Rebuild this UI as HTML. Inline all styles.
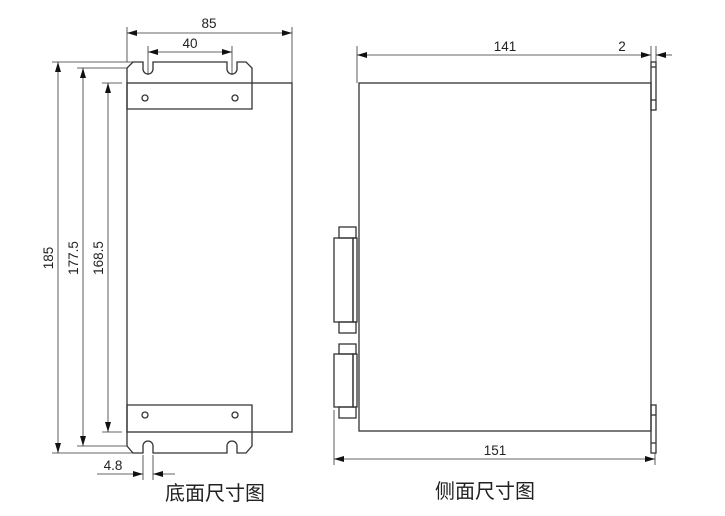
<!DOCTYPE html>
<html><head><meta charset="utf-8"><style>
html,body{margin:0;padding:0;background:#fff;width:725px;height:516px;overflow:hidden}
svg text{font-family:"Liberation Sans","Noto Sans CJK SC",sans-serif;fill:#222}
</style></head><body>
<svg width="725" height="516" viewBox="0 0 725 516" xmlns="http://www.w3.org/2000/svg">
<defs>
<marker id="a" viewBox="0 0 10 6" refX="10" refY="3" markerWidth="10" markerHeight="6" orient="auto-start-reverse" markerUnits="userSpaceOnUse"><path d="M0,0L10,3L0,6z" fill="#111"/></marker>
</defs>
<g fill="none" stroke="#333" stroke-width="1.3">
<rect x="127" y="83" width="165" height="349"/>
<path d="M127,109 V68 L133,62 H143 V69 A5,5 0 0 0 153,69 V62 H227 V69 A5,5 0 0 0 237,69 V62 H246 L252,68 V109 H127"/>
<path d="M127,405 V446 L133,453 H143 V446 A5,5 0 0 1 153,446 V453 H227 V446 A5,5 0 0 1 237,446 V453 H246 L252,446 V405 H127"/>
<circle cx="145" cy="98" r="3"/><circle cx="235" cy="98" r="3"/>
<circle cx="145" cy="415" r="3"/><circle cx="235" cy="415" r="3"/>
<rect x="359" y="83" width="292" height="348"/>
<rect x="651" y="62" width="5" height="48"/><line x1="651" y1="67" x2="656" y2="67"/><line x1="651" y1="100" x2="656" y2="100"/>
<rect x="651" y="405" width="5" height="48"/><line x1="651" y1="415" x2="656" y2="415"/><line x1="651" y1="443" x2="656" y2="443"/>
<rect x="339" y="227" width="17" height="11"/><rect x="334" y="238" width="19" height="84"/><rect x="353" y="238" width="4" height="84"/><rect x="339" y="322" width="17" height="11"/>
<rect x="339" y="344" width="17" height="10"/><rect x="334" y="354" width="19" height="53"/><rect x="353" y="354" width="4" height="53"/><rect x="339" y="407" width="17" height="11"/>
</g>
<g stroke="#333" stroke-width="0.8" fill="none">
<line x1="127" y1="27" x2="127" y2="62"/><line x1="292" y1="27" x2="292" y2="83"/>
<line x1="148" y1="46" x2="148" y2="75"/><line x1="232" y1="46" x2="232" y2="75"/>
<line x1="52" y1="62" x2="133" y2="62"/><line x1="52" y1="453" x2="133" y2="453"/>
<line x1="77" y1="68" x2="127" y2="68"/><line x1="77" y1="446" x2="127" y2="446"/>
<line x1="102" y1="83" x2="122" y2="83"/><line x1="102" y1="432" x2="122" y2="432"/>
<line x1="143" y1="455" x2="143" y2="480"/><line x1="153" y1="455" x2="153" y2="480"/>
<line x1="97" y1="474" x2="143" y2="474" marker-end="url(#a)"/><line x1="175" y1="474" x2="153" y2="474" marker-end="url(#a)"/>
<line x1="357" y1="46" x2="357" y2="83"/><line x1="651" y1="46" x2="651" y2="62"/><line x1="656" y1="46" x2="656" y2="62"/>
<line x1="334" y1="410" x2="334" y2="465"/><line x1="655" y1="453" x2="655" y2="465"/>
<line x1="127" y1="33" x2="292" y2="33" marker-start="url(#a)" marker-end="url(#a)"/>
<line x1="148" y1="52" x2="232" y2="52" marker-start="url(#a)" marker-end="url(#a)"/>
<line x1="58" y1="62" x2="58" y2="453" marker-start="url(#a)" marker-end="url(#a)"/>
<line x1="83" y1="68" x2="83" y2="446" marker-start="url(#a)" marker-end="url(#a)"/>
<line x1="108" y1="83" x2="108" y2="432" marker-start="url(#a)" marker-end="url(#a)"/>
<line x1="357" y1="55" x2="651" y2="55" marker-start="url(#a)" marker-end="url(#a)"/>
<line x1="672" y1="55" x2="656" y2="55" marker-end="url(#a)"/>
<line x1="334" y1="459" x2="655" y2="459" marker-start="url(#a)" marker-end="url(#a)"/>
</g>
<g font-size="13.5" text-anchor="middle">
<text x="209" y="28">85</text>
<text x="190" y="48">40</text>
<text transform="translate(53,258) rotate(-90)">185</text>
<text transform="translate(78,258) rotate(-90)">177.5</text>
<text transform="translate(103,258) rotate(-90)">168.5</text>
<text x="113" y="470">4.8</text>
<text x="505" y="51">141</text>
<text x="622" y="51">2</text>
<text x="495" y="455">151</text>
</g>
<g font-size="20" text-anchor="middle">
<text x="215" y="500">底面尺寸图</text>
<text x="485" y="498">侧面尺寸图</text>
</g>
</svg>
</body></html>
